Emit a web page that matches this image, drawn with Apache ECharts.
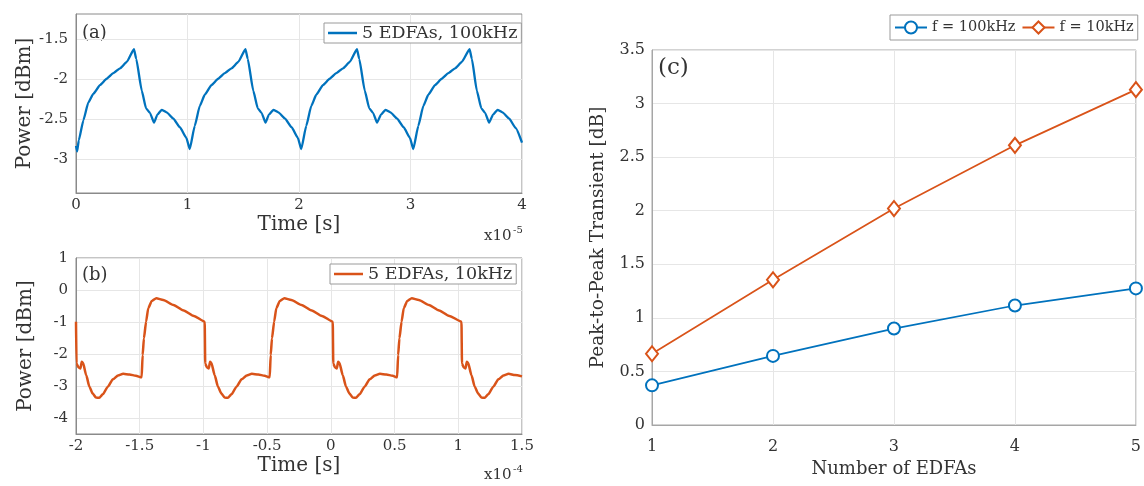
<!DOCTYPE html>
<html>
<head>
<meta charset="utf-8">
<script src="https://cdn.jsdelivr.net/npm/echarts@6/dist/echarts.min.js"></script>
<style>
  html, body { margin: 0; padding: 0; background: #fff; }
  #chart { width: 1144px; height: 486px; }
</style>
</head>
<body>
<div id="chart"></div>
<script>
// (a) power transient, 5 EDFAs, 100 kHz modulation (time in units of 1e-5 s)
const timeA = [
  0, 0.01, 0.025, 0.066, 0.11, 0.155, 0.215, 0.275, 0.335, 0.395, 0.455, 0.52, 0.54, 0.59, 0.628, 0.664, 0.70, 0.73, 0.768, 0.813, 0.873, 0.933, 0.99, 1.02,
  1.065, 1.11, 1.155, 1.215, 1.275, 1.335, 1.395, 1.455, 1.52, 1.54, 1.59, 1.63, 1.665, 1.70, 1.73, 1.77, 1.815, 1.875, 1.935, 1.99, 2.02,
  2.065, 2.11, 2.155, 2.215, 2.275, 2.335, 2.395, 2.455, 2.52, 2.54, 2.59, 2.63, 2.665, 2.70, 2.735, 2.775, 2.82, 2.88, 2.94, 2.995, 3.025,
  3.07, 3.115, 3.16, 3.22, 3.28, 3.34, 3.40, 3.46, 3.53, 3.55, 3.595, 3.635, 3.67, 3.705, 3.74, 3.78, 3.825, 3.885, 3.945, 4.0
];
const powerA = [
  -2.83, -2.90, -2.76, -2.51, -2.29, -2.18, -2.07, -1.99, -1.92, -1.86, -1.78, -1.62, -1.74, -2.14, -2.36, -2.42, -2.54, -2.44, -2.38, -2.41, -2.49, -2.60, -2.73, -2.87,
  -2.58, -2.33, -2.19, -2.07, -1.99, -1.92, -1.86, -1.78, -1.62, -1.74, -2.14, -2.36, -2.42, -2.54, -2.44, -2.38, -2.41, -2.49, -2.60, -2.73, -2.87,
  -2.58, -2.33, -2.19, -2.07, -1.99, -1.92, -1.86, -1.78, -1.62, -1.74, -2.14, -2.36, -2.42, -2.54, -2.44, -2.38, -2.41, -2.49, -2.60, -2.73, -2.87,
  -2.58, -2.33, -2.19, -2.07, -1.99, -1.92, -1.86, -1.78, -1.62, -1.74, -2.14, -2.36, -2.42, -2.54, -2.44, -2.38, -2.41, -2.49, -2.61, -2.79
];

// (b) power transient, 5 EDFAs, 10 kHz modulation (time in units of 1e-4 s)
const timeB = [
  -2.0, -1.996, -1.98, -1.965, -1.955, -1.945, -1.92, -1.895, -1.87, -1.843, -1.817, -1.79, -1.75, -1.71, -1.67, -1.63, -1.58, -1.53, -1.485,
  -1.477, -1.467, -1.45, -1.433, -1.405, -1.37, -1.315, -1.235, -1.155, -1.075, -0.99,
  -0.986, -0.972, -0.958, -0.948, -0.938, -0.912, -0.886, -0.86, -0.834, -0.808, -0.78, -0.74, -0.70, -0.66, -0.62, -0.57, -0.52, -0.48,
  -0.472, -0.462, -0.445, -0.428, -0.40, -0.365, -0.31, -0.23, -0.15, -0.07, 0.015,
  0.019, 0.033, 0.047, 0.057, 0.067, 0.093, 0.119, 0.145, 0.171, 0.197, 0.225, 0.265, 0.305, 0.345, 0.385, 0.435, 0.485, 0.52,
  0.528, 0.538, 0.555, 0.572, 0.60, 0.635, 0.69, 0.77, 0.85, 0.93, 1.025,
  1.029, 1.043, 1.057, 1.067, 1.077, 1.103, 1.129, 1.155, 1.181, 1.207, 1.235, 1.275, 1.315, 1.355, 1.395, 1.445, 1.50
];
const powerB = [
  -0.99, -2.30, -2.42, -2.45, -2.24, -2.27, -2.66, -3.02, -3.23, -3.36, -3.37, -3.26, -3.02, -2.79, -2.67, -2.62, -2.64, -2.68, -2.73,
  -2.03, -1.51, -0.99, -0.57, -0.34, -0.26, -0.31, -0.47, -0.64, -0.81, -0.99,
  -2.30, -2.42, -2.45, -2.24, -2.27, -2.66, -3.02, -3.23, -3.36, -3.37, -3.26, -3.02, -2.79, -2.67, -2.62, -2.64, -2.68, -2.73,
  -2.03, -1.51, -0.99, -0.57, -0.34, -0.26, -0.31, -0.47, -0.64, -0.81, -0.99,
  -2.30, -2.42, -2.45, -2.24, -2.27, -2.66, -3.02, -3.23, -3.36, -3.37, -3.26, -3.02, -2.79, -2.67, -2.62, -2.64, -2.68, -2.73,
  -2.03, -1.51, -0.99, -0.57, -0.34, -0.26, -0.31, -0.47, -0.64, -0.81, -0.99,
  -2.30, -2.42, -2.45, -2.24, -2.27, -2.66, -3.02, -3.23, -3.36, -3.37, -3.26, -3.02, -2.79, -2.67, -2.62, -2.66, -2.70
];

// (c) peak-to-peak transient versus number of amplifiers
const edfaCount = [1, 2, 3, 4, 5];
const p2p100kHz = [0.37, 0.645, 0.90, 1.115, 1.275];
const p2p10kHz = [0.665, 1.355, 2.02, 2.61, 3.13];

// y tick positions of the two time-domain panels
const ticksAY = [-3, -2.5, -2, -1.5];
const ticksBY = [-4, -3, -2, -1, 0, 1];

const BLUE = '#0072BD';
const ORANGE = '#D95319';
const FONT = 'DejaVu Serif';
const TEXT = '#333333';
const AXIS_AB = '#8a8a8a';
const AXIS_C = '#a6a6a6';
const GRIDLINE = '#e6e6e6';

const pairs = (xs, ys) => xs.map((x, i) => [x, ys[i]]);

function valueAxis(extra, axisColor) {
  return Object.assign({
    type: 'value',
    axisLine: { show: true, onZero: false, lineStyle: { color: axisColor, width: 1 } },
    axisTick: { show: false },
    splitLine: { show: true, lineStyle: { color: GRIDLINE, width: 1 } },
    axisLabel: { color: TEXT, fontFamily: FONT, fontSize: 15 },
    nameTextStyle: { color: TEXT, fontFamily: FONT, fontSize: 20 },
    nameLocation: 'middle'
  }, extra);
}

const boxLegend = {
  orient: 'horizontal', borderColor: '#9a9a9a', borderWidth: 1, backgroundColor: '#fff'
};

const chart = echarts.init(document.getElementById('chart'), null, { renderer: 'canvas' });

const option = {
  backgroundColor: '#ffffff',
  animation: false,
  grid: [
    { left: 76, top: 14, width: 446, height: 179, show: true, borderColor: AXIS_AB, borderWidth: 1, backgroundColor: 'transparent' },
    { left: 76, top: 258, width: 446, height: 176, show: true, borderColor: AXIS_AB, borderWidth: 1, backgroundColor: 'transparent' },
    { left: 652, top: 50, width: 486, height: 375, show: true, borderColor: AXIS_C, borderWidth: 1, backgroundColor: 'transparent' }
  ],
  xAxis: [
    valueAxis({
      gridIndex: 0, min: 0, max: 4, interval: 1,
      name: 'Time [s]', nameGap: 22,
      axisLabel: { color: TEXT, fontFamily: FONT, fontSize: 15, margin: 5 }
    }, AXIS_AB),
    valueAxis({
      gridIndex: 1, min: -2, max: 1.5, interval: 0.5,
      name: 'Time [s]', nameGap: 22,
      axisLabel: { color: TEXT, fontFamily: FONT, fontSize: 15, margin: 5 }
    }, AXIS_AB),
    valueAxis({
      gridIndex: 2, min: 1, max: 5, interval: 1,
      name: 'Number of EDFAs', nameGap: 35,
      nameTextStyle: { color: TEXT, fontFamily: FONT, fontSize: 18 },
      axisLabel: { color: TEXT, fontFamily: FONT, fontSize: 16, margin: 14 }
    }, AXIS_C)
  ],
  yAxis: [
    valueAxis({
      gridIndex: 0, min: -3.42, max: -1.18,
      name: 'Power [dBm]', nameGap: 40,
      axisTick: { show: false, customValues: ticksAY },
      axisLabel: { color: TEXT, fontFamily: FONT, fontSize: 15, margin: 8, customValues: ticksAY }
    }, AXIS_AB),
    valueAxis({
      gridIndex: 1, min: -4.5, max: 1,
      name: 'Power [dBm]', nameGap: 40,
      axisTick: { show: false, customValues: ticksBY },
      axisLabel: { color: TEXT, fontFamily: FONT, fontSize: 15, margin: 8, customValues: ticksBY }
    }, AXIS_AB),
    valueAxis({
      gridIndex: 2, min: 0, max: 3.5, interval: 0.5,
      name: 'Peak-to-Peak Transient [dB]', nameGap: 44,
      nameTextStyle: { color: TEXT, fontFamily: FONT, fontSize: 18.5 },
      axisLabel: { color: TEXT, fontFamily: FONT, fontSize: 16, margin: 7 }
    }, AXIS_C)
  ],
  legend: [
    Object.assign({
      data: [{ name: '5 EDFAs, 100kHz', icon: 'rect' }], left: 324, top: 23,
      itemWidth: 29, itemHeight: 2.5, itemGap: 4, padding: [1, 4, 1, 4],
      textStyle: { color: TEXT, fontFamily: FONT, fontSize: 17.5 }
    }, boxLegend),
    Object.assign({
      data: [{ name: '5 EDFAs, 10kHz', icon: 'rect' }], left: 330, top: 264,
      itemWidth: 29, itemHeight: 2.5, itemGap: 4, padding: [1, 4, 1, 4],
      textStyle: { color: TEXT, fontFamily: FONT, fontSize: 17.5 }
    }, boxLegend),
    Object.assign({
      data: ['f = 100kHz', 'f = 10kHz'], left: 890, top: 15,
      itemWidth: 32, itemHeight: 15, itemGap: 6, padding: [5, 4, 5, 4],
      textStyle: { color: TEXT, fontFamily: FONT, fontSize: 14.5 }
    }, boxLegend)
  ],
  series: [
    {
      name: '5 EDFAs, 100kHz', type: 'line', xAxisIndex: 0, yAxisIndex: 0,
      data: pairs(timeA, powerA), symbol: 'none', smooth: 0.15, smoothMonotone: 'x',
      lineStyle: { color: BLUE, width: 2.3 }, itemStyle: { color: BLUE }
    },
    {
      name: '5 EDFAs, 10kHz', type: 'line', xAxisIndex: 1, yAxisIndex: 1,
      data: pairs(timeB, powerB), symbol: 'none', smooth: 0.2, smoothMonotone: 'x',
      lineStyle: { color: ORANGE, width: 2.5 }, itemStyle: { color: ORANGE }
    },
    {
      name: 'f = 100kHz', type: 'line', xAxisIndex: 2, yAxisIndex: 2,
      data: pairs(edfaCount, p2p100kHz), symbol: 'emptyCircle', symbolSize: 12,
      lineStyle: { color: BLUE, width: 1.7 }, itemStyle: { color: BLUE, borderWidth: 1.7 }
    },
    {
      name: 'f = 10kHz', type: 'line', xAxisIndex: 2, yAxisIndex: 2,
      data: pairs(edfaCount, p2p10kHz), symbol: 'emptyDiamond', symbolSize: [12, 15],
      lineStyle: { color: ORANGE, width: 1.7 }, itemStyle: { color: ORANGE, borderWidth: 1.7 }
    }
  ],
  graphic: [
    { type: 'text', left: 82, top: 24, style: { text: '(a)', font: '18px "DejaVu Serif"', fill: TEXT } },
    { type: 'text', left: 82, top: 266, style: { text: '(b)', font: '18px "DejaVu Serif"', fill: TEXT } },
    { type: 'text', left: 658, top: 57, style: { text: '(c)', font: '23px "DejaVu Serif"', fill: TEXT } },
    { type: 'text', left: 484, top: 229, style: { text: 'x10', font: '15px "DejaVu Serif"', fill: TEXT } },
    { type: 'text', left: 513, top: 225, style: { text: '-5', font: '10px "DejaVu Serif"', fill: TEXT } },
    { type: 'text', left: 484, top: 468, style: { text: 'x10', font: '15px "DejaVu Serif"', fill: TEXT } },
    { type: 'text', left: 513, top: 464, style: { text: '-4', font: '10px "DejaVu Serif"', fill: TEXT } }
  ]
};

chart.setOption(option);
</script>
</body>
</html>
